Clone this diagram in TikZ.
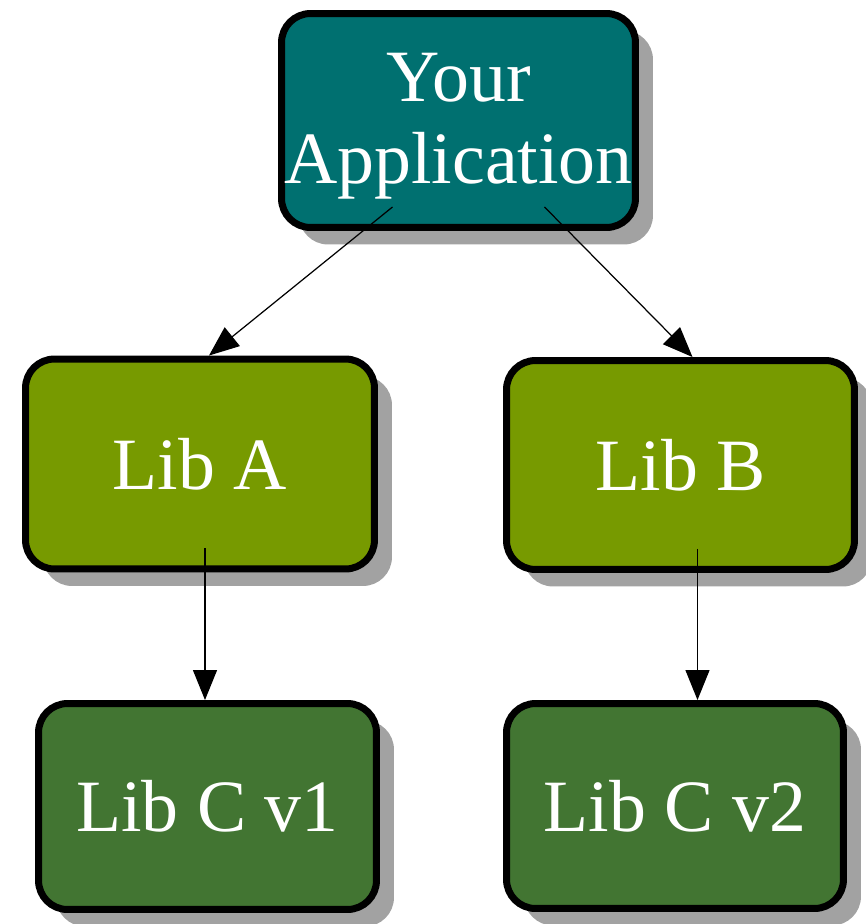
\documentclass[tikz,border=0pt]{standalone}
\usepackage{fontspec}
\setmainfont{Liberation Serif}
\usetikzlibrary{arrows.meta,shadows,calc}

\definecolor{appteal}{RGB}{0,112,112}
\definecolor{libolive}{RGB}{119,154,0}
\definecolor{libgreen}{RGB}{66,117,50}
\definecolor{shadowgray}{RGB}{162,162,162}

\tikzset{
  box/.style={draw=black, line width=0.14cm, rounded corners=0.58cm,
    text=white, align=center, inner sep=0pt,
    font=\fontsize{42}{47}\selectfont,
    drop shadow={shadow xshift=0.35cm, shadow yshift=-0.34cm,
      fill=shadowgray, opacity=1}},
  dep/.style={line width=0.7pt, -{Triangle[length=0.6cm,width=0.48cm]}}
}

\begin{document}
\begin{tikzpicture}[x=0.02cm, y=-0.02cm]
  \useasboundingbox (0,0) rectangle (866,924);

  % package boxes
  \node[box, fill=appteal, minimum width=7.08cm, minimum height=4.28cm]
    (app) at (458.5,120.5) {\rule{0pt}{1.2cm}Your\\Application};
  \node[box, fill=libolive, minimum width=6.98cm, minimum height=4.2cm]
    (liba) at (200,464) {Lib A};
  \node[box, fill=libolive, minimum width=6.96cm, minimum height=4.18cm]
    (libb) at (680.5,465) {Lib B};
  \node[box, fill=libgreen, minimum width=6.76cm, minimum height=4.12cm]
    (libc1) at (207.5,806.5) {Lib C v1};
  \node[box, fill=libgreen, minimum width=6.74cm, minimum height=4.1cm]
    (libc2) at (675,806) {Lib C v2};

  % connector end points
  \coordinate (appL) at ($(app.south)+(-66,-24)$);
  \coordinate (appR) at ($(app.south)+(86,-24)$);
  \coordinate (libaIn) at ($(liba.north)+(9,0)$);
  \coordinate (libbIn) at ($(libb.north)+(12,0)$);
  \coordinate (libaOut) at ($(liba.south)+(5,-24)$);
  \coordinate (libbOut) at ($(libb.south)+(17,-24)$);
  \coordinate (libc1In) at (libc1.north -| libaOut);
  \coordinate (libc2In) at (libc2.north -| libbOut);

  % dependencies
  \draw[dep] (appL) -- (libaIn);
  \draw[dep] (appR) -- (libbIn);
  \draw[dep] (libaOut) -- (libc1In);
  \draw[dep] (libbOut) -- (libc2In);
\end{tikzpicture}
\end{document}
